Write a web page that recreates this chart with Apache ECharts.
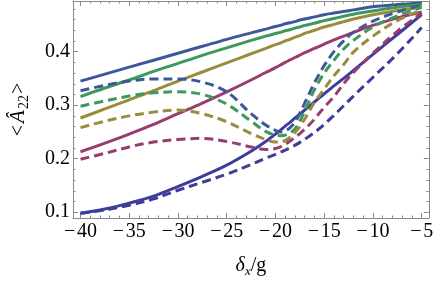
<!DOCTYPE html>
<html><head><meta charset="utf-8">
<script src="https://cdn.jsdelivr.net/npm/echarts@6/dist/echarts.min.js"></script>
<style>html,body{margin:0;padding:0;background:#fff}#c{width:436px;height:283px}</style>
</head><body><div id="c"></div>
<script>
// x positions (δx/g)
const X = [-40,-37.5,-35,-32.5,-30,-27.5,-25,-22.5,-21,-20,-19.5,-19,-18.5,-18,-17.5,-17,-16.5,-16,-15,-14,-13,-12,-10,-7.5,-5];
// solid curves
const solidBlue    = [.345,.358,.371,.384,.397,.410,.423,.435,.442,.447,.449,.452,.454,.456,.459,.461,.463,.465,.469,.472,.475,.478,.484,.488,.491];
const solidGreen   = [.316,.332,.347,.363,.378,.393,.407,.421,.429,.434,.436,.439,.441,.444,.446,.449,.451,.453,.458,.462,.466,.470,.476,.483,.488];
const solidOlive   = [.276,.293,.310,.327,.345,.362,.379,.396,.406,.413,.416,.420,.423,.427,.430,.434,.437,.440,.446,.451,.456,.461,.469,.477,.483];
const solidMagenta = [.213,.229,.246,.264,.284,.304,.325,.347,.361,.370,.375,.380,.3845,.389,.3935,.398,.402,.406,.414,.422,.429,.436,.449,.463,.474];
const solidIndigo  = [.098,.106,.117,.130,.148,.167,.188,.214,.232,.246,.253,.261,.268,.276,.283,.291,.298,.306,.321,.336,.350,.365,.395,.432,.469];
// dashed curves
const dashBlue     = [.327,.337,.345,.349,.349,.343,.325,.284,.263,.253,.250,.252,.258,.268,.285,.304,.323,.342,.374,.400,.420,.436,.457,.474,.487];
const dashGreen    = [.298,.308,.317,.323,.325,.320,.302,.270,.251,.244,.243,.244,.248,.256,.270,.289,.309,.329,.360,.384,.405,.421,.446,.467,.483];
const dashOlive    = [.258,.270,.280,.287,.291,.284,.269,.247,.236,.231,.231,.234,.240,.249,.260,.274,.290,.305,.330,.355,.376,.399,.429,.458,.478];
const dashMagenta  = [.199,.210,.222,.231,.236,.238,.232,.222,.217,.219,.222,.227,.233,.240,.247,.255,.264,.274,.296,.316,.340,.361,.397,.438,.472];
const dashIndigo   = [.098,.104,.113,.125,.141,.156,.171,.189,.201,.208,.212,.216,.2205,.225,.2305,.236,.2425,.249,.264,.281,.299,.317,.352,.396,.445];
// tick labels
const xTicks = [-40,-35,-30,-25,-20,-15,-10,-5];
const yTicks = [0.1,0.2,0.3,0.4];

const C = {blue:'#3d5799', green:'#3d9959', olive:'#998d3d', magenta:'#993d71', indigo:'#3e3d99'};
const XMIN=-40.77, XMAX=-4.27, YMIN=0.0892, YMAX=0.4946;
const frame = '#8a8a8a';
const font = 'Liberation Serif';

function mk(ys, color, dashed){
  return {type:'line', xAxisIndex:0, yAxisIndex:0, data: X.map((x,i)=>[x, ys[i]]),
    showSymbol:false, smooth:0.35, silent:true,
    lineStyle:{color:color, width:3, type: dashed?[9,5]:'solid', cap:'butt'}};
}
const isTick = (v, arr) => arr.some(t => Math.abs(t - v) < 1e-6);

const baseX = {type:'value', min:XMIN, max:XMAX, splitNumber:7,
  axisLine:{show:true, lineStyle:{color:frame, width:1}},
  axisTick:{show:true, inside:true, length:5, lineStyle:{color:frame}},
  minorTick:{show:true, splitNumber:5, length:2.5, lineStyle:{color:frame}},
  splitLine:{show:false}, minorSplitLine:{show:false}};
const baseY = {type:'value', min:YMIN, max:YMAX, splitNumber:4,
  axisLine:{show:true, lineStyle:{color:frame, width:1}},
  axisTick:{show:true, inside:true, length:5, lineStyle:{color:frame}},
  minorTick:{show:true, splitNumber:5, length:2.5, lineStyle:{color:frame}},
  splitLine:{show:false}, minorSplitLine:{show:false}};

const chart = echarts.init(document.getElementById('c'), null, {renderer:'canvas'});
chart.setOption({
  animation:false,
  backgroundColor:'#fff',
  grid:{left:65, right:6, top:1, bottom:57, containLabel:false},
  xAxis:[
    Object.assign({}, baseX, {position:'bottom',
      axisLabel:{show:true, margin:4, fontFamily:font, fontSize:20, color:'#000',
        showMinLabel:false, showMaxLabel:false,
        formatter: v => isTick(v, xTicks) ? '\u2212\u200A' + Math.abs(Math.round(v)) : ''},
      name:'{d|δ}{s|x}{t|/g}', nameLocation:'middle', nameGap:36,
      nameTextStyle:{fontFamily:font, fontSize:20, color:'#000',
        rich:{d:{fontFamily:font, fontStyle:'italic', fontSize:20, color:'#000'},
              s:{fontFamily:font, fontStyle:'italic', fontSize:13, color:'#000', padding:[11,0,0,0]},
              t:{fontFamily:font, fontSize:20, color:'#000'}}}}),
    Object.assign({}, baseX, {position:'top', axisLabel:{show:false}})
  ],
  yAxis:[
    Object.assign({}, baseY, {position:'left',
      axisLabel:{show:true, margin:3, fontFamily:font, fontSize:20, color:'#000',
        showMinLabel:false, showMaxLabel:false,
        formatter: v => isTick(v, yTicks) ? v.toFixed(1) : ''},
      name:'{t|<}{a|Â}{s|22}{t|>}', nameLocation:'middle', nameGap:42, nameRotate:90,
      nameTextStyle:{fontFamily:font, fontSize:20, color:'#000',
        rich:{a:{fontFamily:font, fontStyle:'italic', fontSize:21, color:'#000', padding:[0,1,0,2]},
              s:{fontFamily:font, fontSize:14, color:'#000', padding:[11,1,0,0]},
              t:{fontFamily:font, fontSize:20, color:'#000'}}}}),
    Object.assign({}, baseY, {position:'right', axisLabel:{show:false}})
  ],
  series:[
    mk(solidBlue, C.blue, false),
    mk(solidGreen, C.green, false),
    mk(solidOlive, C.olive, false),
    mk(solidMagenta, C.magenta, false),
    mk(solidIndigo, C.indigo, false),
    mk(dashBlue, C.blue, true),
    mk(dashGreen, C.green, true),
    mk(dashOlive, C.olive, true),
    mk(dashMagenta, C.magenta, true),
    mk(dashIndigo, C.indigo, true)
  ]
});
</script></body></html>
